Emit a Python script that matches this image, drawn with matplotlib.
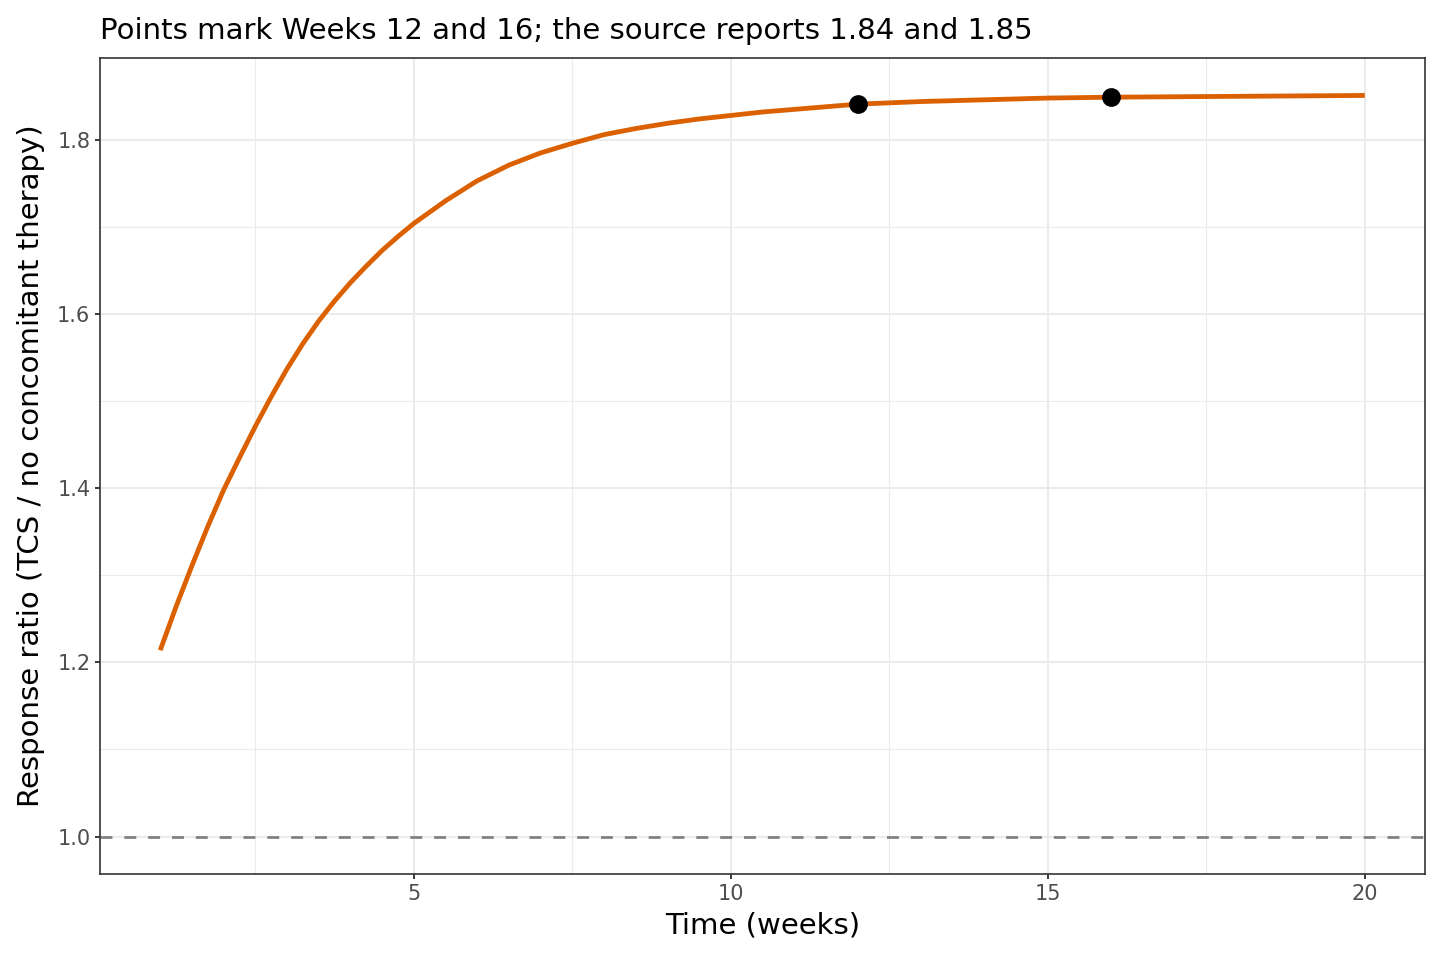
import matplotlib
matplotlib.use("Agg")
import matplotlib.pyplot as plt
from matplotlib.ticker import FixedLocator, FormatStrFormatter

# curve
weeks = [1.0, 1.25, 1.5, 1.75, 2.0, 2.25, 2.5, 2.75, 3.0, 3.25, 3.5, 3.75,
         4.0, 4.25, 4.5, 4.75, 5.0, 5.5, 6.0, 6.5, 7.0, 7.5, 8.0, 8.5, 9.0,
         9.5, 10.0, 10.5, 11.0, 11.5, 12.0, 13.0, 14.0, 15.0, 16.0, 18.0, 20.0]
ratio = [1.214, 1.264, 1.311, 1.356, 1.398, 1.435, 1.471, 1.505, 1.537, 1.566,
         1.592, 1.615, 1.636, 1.655, 1.673, 1.689, 1.704, 1.730, 1.753, 1.771,
         1.785, 1.796, 1.806, 1.813, 1.819, 1.824, 1.828, 1.832, 1.835, 1.838,
         1.841, 1.844, 1.846, 1.848, 1.849, 1.850, 1.851]

# marked weeks
mark_weeks = [12, 16]
mark_ratio = [1.841, 1.849]

x_major = [5, 10, 15, 20]
x_minor = [2.5, 7.5, 12.5, 17.5]
y_major = [1.0, 1.2, 1.4, 1.6, 1.8]
y_minor = [1.1, 1.3, 1.5, 1.7]

fig = plt.figure(figsize=(9.6, 6.4), dpi=150)
ax = fig.add_axes([100 / 1440, 86 / 960, 1325 / 1440, 816 / 960])

ax.set_xlim(0.05, 20.95)
ax.set_ylim(0.957, 1.894)

ax.xaxis.set_major_locator(FixedLocator(x_major))
ax.xaxis.set_minor_locator(FixedLocator(x_minor))
ax.yaxis.set_major_locator(FixedLocator(y_major))
ax.yaxis.set_minor_locator(FixedLocator(y_minor))
ax.yaxis.set_major_formatter(FormatStrFormatter("%.1f"))

ax.grid(which="major", color="#EBEBEB", linewidth=1.0, zorder=0)
ax.grid(which="minor", color="#EBEBEB", linewidth=0.55, zorder=0)
ax.set_axisbelow(True)

for s in ax.spines.values():
    s.set_color("#333333")
    s.set_linewidth(0.8)

ax.tick_params(which="major", length=2.6, width=0.9, color="#333333",
               labelsize=10, labelcolor="#4D4D4D", pad=2)
ax.tick_params(which="minor", length=0)

ax.axhline(1.0, color="#7F7F7F", linewidth=1.3, linestyle=(0, (4.4, 4.4)), zorder=2)
ax.plot(weeks, ratio, color="#DB6100", linewidth=2.3, solid_capstyle="butt", zorder=3)
ax.plot(mark_weeks, mark_ratio, "o", color="black", markersize=8, zorder=4)

ax.set_xlabel("Time (weeks)", fontsize=14, labelpad=4)
ax.set_ylabel("Response ratio (TCS / no concomitant therapy)", fontsize=14, labelpad=6)
ax.set_title("Points mark Weeks 12 and 16; the source reports 1.84 and 1.85",
             fontsize=14, loc="left", pad=9)

fig.savefig("out.png", dpi=150)
